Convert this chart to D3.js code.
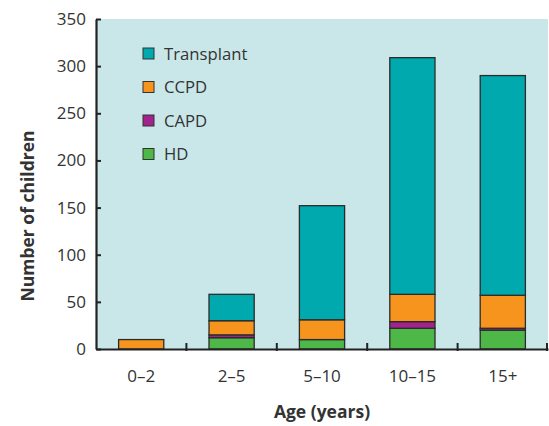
<!DOCTYPE html>
<html>
<head>
<meta charset="utf-8">
<script src="https://cdn.jsdelivr.net/npm/d3@7"></script>
<style>
  body { margin: 0; background: #fff; }
  svg text { font-family: "Open Sans", "Noto Sans", sans-serif; fill: #333; }
</style>
</head>
<body>
<svg id="chart" width="549" height="426"></svg>
<script>
// Age groups and the number of children on each modality
const ageGroups = ["0–2", "2–5", "5–10", "10–15", "15+"];
const hd = [0, 12, 10, 22, 20];
const capd = [0, 3, 0, 7, 2];
const ccpd = [10, 15, 21, 29, 35];
const transplant = [0, 28, 121, 251, 233];
const yTicks = [0, 50, 100, 150, 200, 250, 300, 350];

const seriesNames = ["HD", "CAPD", "CCPD", "Transplant"];
const seriesColors = { HD: "#4db848", CAPD: "#a3238e", CCPD: "#f7941d", Transplant: "#00a9ae" };

const rows = ageGroups.map((g, i) => ({
  group: g, HD: hd[i], CAPD: capd[i], CCPD: ccpd[i], Transplant: transplant[i]
}));

const margin = { left: 96, right: 1, top: 19, bottom: 77 };
const W = 549, H = 426;
const svg = d3.select("#chart");

const x = d3.scaleBand().domain(ageGroups).range([margin.left, W - margin.right]).paddingInner(0).paddingOuter(0);
const y = d3.scaleLinear().domain([0, 350]).range([H - margin.bottom, margin.top]);

// plot background
svg.append("rect")
  .attr("x", margin.left).attr("y", margin.top)
  .attr("width", W - margin.right - margin.left)
  .attr("height", y(0) - margin.top)
  .attr("fill", "#c9e7e9");

const stacked = d3.stack().keys(seriesNames)(rows);
const barW = x.bandwidth() * 0.5;

svg.append("g").selectAll("g")
  .data(stacked)
  .join("g")
  .attr("fill", d => seriesColors[d.key])
  .selectAll("rect")
  .data(d => d.filter(p => p[1] - p[0] > 0))
  .join("rect")
  .attr("x", d => x(d.data.group) + (x.bandwidth() - barW) / 2)
  .attr("y", d => y(d[1]))
  .attr("width", barW)
  .attr("height", d => y(d[0]) - y(d[1]))
  .attr("stroke", "#2b2b2b")
  .attr("stroke-width", 1.3);

// y axis with inward ticks
const yAxis = svg.append("g")
  .attr("transform", `translate(${margin.left},0)`)
  .call(d3.axisLeft(y).tickValues(yTicks).tickSize(-5).tickPadding(10).tickSizeOuter(0));
yAxis.select(".domain").attr("stroke", "#222").attr("stroke-width", 2.2);
yAxis.selectAll(".tick line").attr("stroke", "#222").attr("stroke-width", 2);
yAxis.selectAll(".tick text").attr("font-size", 17).attr("fill", "#333")
  .style("font-family", "'Open Sans', sans-serif");

// x axis: category labels, ticks at the group boundaries
const xAxis = svg.append("g")
  .attr("transform", `translate(0,${y(0)})`)
  .call(d3.axisBottom(x).tickSize(0).tickPadding(0));
xAxis.select(".domain").attr("stroke", "#222").attr("stroke-width", 2.2);
xAxis.selectAll(".tick text").attr("font-size", 17).attr("fill", "#333")
  .attr("y", 33).attr("dy", null)
  .style("font-family", "'Open Sans', sans-serif");

const boundaries = ageGroups.slice(1).map(g => x(g)).concat([x.range()[1] - 1]);
svg.append("g").selectAll("line")
  .data(boundaries)
  .join("line")
  .attr("x1", d => d).attr("x2", d => d)
  .attr("y1", y(0) - 6).attr("y2", y(0) + 2)
  .attr("stroke", "#222").attr("stroke-width", 2);

// axis titles
svg.append("text")
  .attr("x", 322)
  .attr("y", 418)
  .attr("text-anchor", "middle")
  .attr("font-size", 17.5).attr("font-weight", "bold")
  .attr("fill", "#222")
  .text("Age (years)");

svg.append("text")
  .attr("transform", "translate(34,216) rotate(-90)")
  .attr("text-anchor", "middle")
  .attr("font-size", 17.5).attr("font-weight", "bold")
  .attr("fill", "#222")
  .text("Number of children");

// legend
const legendOrder = ["Transplant", "CCPD", "CAPD", "HD"];
const legend = svg.append("g").attr("transform", "translate(143,48)");
const item = legend.selectAll("g")
  .data(legendOrder)
  .join("g")
  .attr("transform", (d, i) => `translate(0,${i * 33.5})`);
item.append("rect")
  .attr("width", 11).attr("height", 11)
  .attr("fill", d => seriesColors[d])
  .attr("stroke", "#333").attr("stroke-width", 1);
item.append("text")
  .attr("x", 21).attr("y", 11.5)
  .attr("font-size", 16.7)
  .attr("fill", "#333")
  .text(d => d);
</script>
</body>
</html>
